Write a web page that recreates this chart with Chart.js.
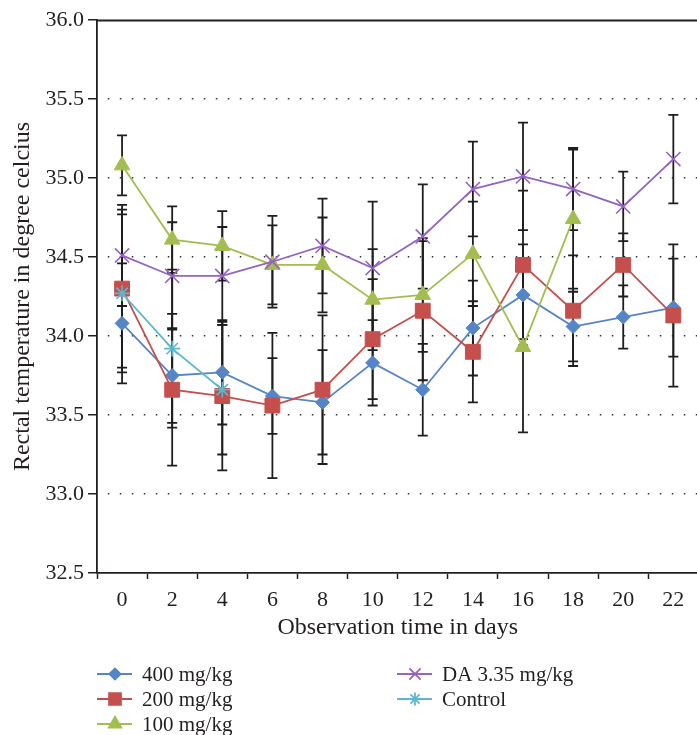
<!DOCTYPE html>
<html>
<head>
<meta charset="utf-8">
<script src="https://cdn.jsdelivr.net/npm/chart.js@4.4.1/dist/chart.umd.min.js"></script>
<style>
  html, body { margin: 0; padding: 0; background: #fff; overflow: hidden; }
  #wrap { position: relative; width: 697px; height: 735px; overflow: hidden; }
  canvas { position: absolute; left: 0; top: 0; }
</style>
</head>
<body>
<div id="wrap"><canvas id="temp" width="710" height="735"></canvas></div>
<script>
// observation days
const days = ['0', '2', '4', '6', '8', '10', '12', '14', '16', '18', '20', '22'];

// mean rectal temperature and SD per group
const dose400 = [34.08, 33.75, 33.77, 33.62, 33.58, 33.83, 33.66, 34.05, 34.26, 34.06, 34.12, 34.18];
const sd400 = [0.38, 0.30, 0.33, 0.24, 0.33, 0.27, 0.29, 0.30, 0.32, 0.22, 0.20, 0.31];

const dose200 = [34.30, 33.66, 33.62, 33.56, 33.66, 33.98, 34.16, 33.90, 34.45, 34.16, 34.45, 34.13];
const sd200 = [0.50, 0.48, 0.47, 0.46, 0.47, 0.38, 0.44, 0.32, 0.47, 0.35, 0.20, 0.45];

const dose100 = [35.08, 34.61, 34.57, 34.45, 34.45, 34.23, 34.26, 34.52, 33.93, 34.74, null, null];
const sd100 = [0.19, 0.21, 0.22, 0.25, 0.30, 0.32, 0.36, 0.33, 0.54, 0.44, null, null];

const da335 = [34.51, 34.38, 34.38, 34.47, 34.57, 34.43, 34.63, 34.93, 35.01, 34.93, 34.82, 35.12];
const sdDa = [0.32, 0.34, 0.31, 0.29, 0.30, 0.42, 0.33, 0.30, 0.34, 0.26, 0.22, 0.28];

const control = [34.27, 33.92, 33.66, null, null, null, null, null, null, null, null, null];
const sdControl = [0.50, 0.50, 0.41, null, null, null, null, null, null, null, null, null];

const yTicks = [32.5, 33.0, 33.5, 34.0, 34.5, 35.0, 35.5, 36.0];

const FONT = '"Liberation Serif", "Times New Roman", serif';
const INK = '#231f20';

function series(label, data, sd, color, style, radius, order) {
    return {
        label: label,
        data: data,
        sd: sd,
        borderColor: color,
        backgroundColor: color,
        pointBackgroundColor: color,
        pointBorderColor: color,
        pointStyle: style,
        pointRadius: radius,
        pointBorderWidth: (style === 'crossRot' || style === 'star') ? 1.6 : 1,
        borderWidth: 1.8,
        tension: 0,
        spanGaps: false,
        order: order
    };
}

const datasets = [
    series('400 mg/kg', dose400, sd400, '#5585c6', 'rectRot', 7, 5),
    series('200 mg/kg', dose200, sd200, '#c44f4c', 'rect', 10.5, 4),
    series('100 mg/kg', dose100, sd100, '#a4bd50', 'triangle', 9, 3),
    series('DA 3.35 mg/kg', da335, sdDa, '#9563c1', 'crossRot', 10, 2),
    series('Control', control, sdControl, '#5db8cf', 'star', 8, 1)
];

// legend slots: column x of the line start, row y
const legendSlots = [[97, 674], [97, 699], [97, 724], [397, 674], [397, 699]];

const errorBars = {
    id: 'errorBars',
    beforeDatasetsDraw(chart) {
        const ctx = chart.ctx;
        const y = chart.scales.y;
        ctx.save();
        ctx.strokeStyle = '#1e1e1e';
        ctx.lineWidth = 1.8;
        chart.data.datasets.forEach(function (ds, di) {
            const meta = chart.getDatasetMeta(di);
            ds.data.forEach(function (v, i) {
                if (v === null || ds.sd[i] === null) return;
                const x = meta.data[i].x;
                const top = y.getPixelForValue(v + ds.sd[i]);
                const bot = y.getPixelForValue(v - ds.sd[i]);
                ctx.beginPath();
                ctx.moveTo(x, top); ctx.lineTo(x, bot);
                ctx.moveTo(x - 5, top); ctx.lineTo(x + 5, top);
                ctx.moveTo(x - 5, bot); ctx.lineTo(x + 5, bot);
                ctx.stroke();
            });
        });
        ctx.restore();
    }
};

const frameAndLegend = {
    id: 'frameAndLegend',
    afterDraw(chart) {
        const ctx = chart.ctx;
        const area = chart.chartArea;
        const yTop = Math.round(chart.scales.y.getPixelForValue(36.0)) + 0.5;
        ctx.save();
        ctx.strokeStyle = INK;
        ctx.lineWidth = 1.8;
        ctx.beginPath();
        ctx.moveTo(area.left, yTop);
        ctx.lineTo(chart.width, yTop);
        ctx.stroke();

        ctx.font = '21px ' + FONT;
        ctx.textBaseline = 'middle';
        ctx.fillStyle = INK;
        chart.data.datasets.forEach(function (ds, i) {
            const slot = legendSlots[i];
            const lx = slot[0], ly = slot[1];
            ctx.strokeStyle = ds.borderColor;
            ctx.fillStyle = ds.borderColor;
            ctx.lineWidth = 1.8;
            ctx.beginPath();
            ctx.moveTo(lx, ly); ctx.lineTo(lx + 35, ly);
            ctx.stroke();
            if (Chart.helpers && Chart.helpers.drawPoint) {
                Chart.helpers.drawPoint(ctx, {
                    pointStyle: ds.pointStyle,
                    radius: ds.pointRadius * 0.8,
                    borderWidth: ds.pointBorderWidth,
                    rotation: 0
                }, lx + 18, ly);
            }
            ctx.fillStyle = INK;
            ctx.fillText(ds.label, lx + 45, ly + 1);
        });
        ctx.restore();
    }
};

new Chart(document.getElementById('temp'), {
    type: 'line',
    data: { labels: days, datasets: datasets },
    plugins: [errorBars, frameAndLegend],
    options: {
        responsive: false,
        animation: false,
        layout: { padding: { top: 20, right: 2, bottom: 93, left: 0 } },
        plugins: { legend: { display: false }, tooltip: { enabled: false } },
        scales: {
            x: {
                offset: true,
                afterFit: function (s) { s.height = 69; },
                grid: {
                    offset: true,
                    drawOnChartArea: false,
                    drawTicks: true,
                    tickLength: 6,
                    tickColor: INK,
                    tickWidth: 1.5
                },
                border: { color: INK, width: 1.8 },
                ticks: { color: INK, padding: 8, maxRotation: 0, font: { family: FONT, size: 22 } },
                title: {
                    display: true,
                    text: 'Observation time in days',
                    color: INK,
                    padding: { top: 0, bottom: 0 },
                    font: { family: FONT, size: 24 }
                }
            },
            y: {
                min: 32.5,
                max: 36.0,
                afterFit: function (s) { s.width = 97; },
                afterBuildTicks: function (s) { s.ticks = yTicks.map(function (v) { return { value: v }; }); },
                grid: {
                    color: function (c) {
                        if (!c.tick) return 'rgba(0,0,0,0)';
                        const v = c.tick.value;
                        return (Math.abs(v - 36) < 1e-6 || Math.abs(v - 32.5) < 1e-6) ? 'rgba(0,0,0,0)' : '#333';
                    },
                    lineWidth: 1.5,
                    tickLength: 9,
                    tickColor: INK,
                    tickWidth: 1.5
                },
                border: { color: INK, width: 1.8, dash: [1.5, 10.5], dashOffset: 2 },
                ticks: {
                    color: INK,
                    padding: 4,
                    font: { family: FONT, size: 22 },
                    callback: function (v) { return Number(v).toFixed(1); }
                },
                title: {
                    display: true,
                    text: 'Rectal temperature in degree celcius',
                    color: INK,
                    padding: { top: 8, bottom: 0 },
                    font: { family: FONT, size: 24 }
                }
            }
        }
    }
});
</script>
</body>
</html>
